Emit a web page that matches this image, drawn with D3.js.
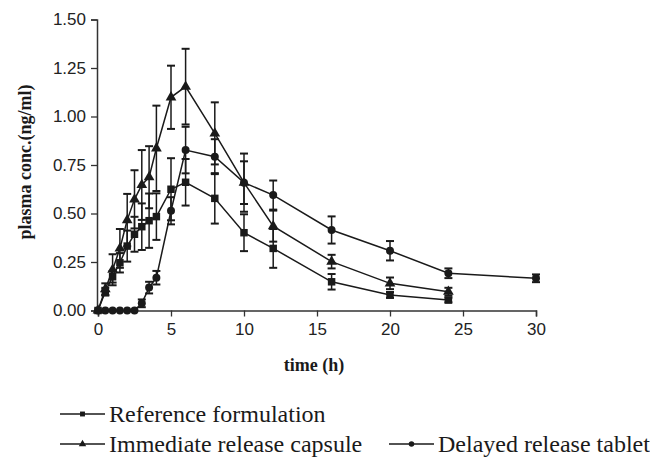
<!DOCTYPE html>
<html>
<head>
<meta charset="utf-8">
<script src="https://cdn.jsdelivr.net/npm/d3@7"></script>
<style>
  body { margin: 0; background: #fff; }
  svg { display: block; }
</style>
</head>
<body>
<svg id="chart" width="650" height="460"></svg>
<script>
// sampling times (h)
const times = [0, 0.5, 1, 1.5, 2, 2.5, 3, 3.5, 4, 5, 6, 8, 10, 12, 16, 20, 24];
const timesDelayed = [0, 0.5, 1, 1.5, 2, 2.5, 3, 3.5, 4, 5, 6, 8, 10, 12, 16, 20, 24, 30];

// mean plasma conc. (ng/ml) and error
const refMean = [0, 0.097, 0.174, 0.246, 0.332, 0.393, 0.432, 0.463, 0.484, 0.625, 0.661, 0.578, 0.401, 0.320, 0.148, 0.080, 0.054];
const refErr = [0, 0.02, 0.03, 0.05, 0.08, 0.09, 0.12, 0.14, 0.12, 0.16, 0.12, 0.13, 0.095, 0.10, 0.04, 0.015, 0.012];

const irMean = [0, 0.11, 0.21, 0.32, 0.466, 0.573, 0.647, 0.687, 0.836, 1.099, 1.154, 0.913, 0.659, 0.435, 0.252, 0.14, 0.097];
const irErr = [0, 0.03, 0.08, 0.10, 0.135, 0.15, 0.18, 0.16, 0.22, 0.163, 0.195, 0.16, 0.15, 0.08, 0.035, 0.03, 0.02];

const drMean = [0, 0, 0, 0, 0, 0, 0.037, 0.118, 0.169, 0.514, 0.827, 0.793, 0.659, 0.595, 0.415, 0.308, 0.192, 0.166];
const drErr = [0, 0, 0, 0, 0, 0, 0.02, 0.03, 0.035, 0.07, 0.12, 0.09, 0.11, 0.075, 0.07, 0.05, 0.025, 0.02];

const xTicks = [0, 5, 10, 15, 20, 25, 30];
const yTicks = [0, 0.25, 0.5, 0.75, 1.0, 1.25, 1.5];

const seriesNames = ['Reference formulation', 'Immediate release capsule', 'Delayed release tablet'];

const ink = '#1a1a1a';

const svg = d3.select('#chart');

const x = d3.scaleLinear().domain([0, 30]).range([98, 536]);
const y = d3.scaleLinear().domain([0, 1.5]).range([310.5, 19.5]);

const series = [
  {name: seriesNames[0], shape: d3.symbolSquare, size: 56, t: times, m: refMean, e: refErr},
  {name: seriesNames[1], shape: d3.symbolTriangle, size: 50, t: times, m: irMean, e: irErr},
  {name: seriesNames[2], shape: d3.symbolCircle, size: 50, t: timesDelayed, m: drMean, e: drErr}
].map(s => Object.assign(s, {
  pts: s.t.map((t, i) => ({t: t, v: s.m[i], e: s.e[i]}))
}));

// axes
const yAxis = svg.append('g')
  .attr('transform', `translate(${x(0) - 1},0)`)
  .call(d3.axisLeft(y).tickValues(yTicks).tickFormat(d3.format('.2f')).tickSize(6).tickPadding(5));

const xAxis = svg.append('g')
  .attr('transform', `translate(0,${y(0)})`)
  .call(d3.axisBottom(x).tickValues(xTicks).tickFormat(d3.format('d')).tickSize(6).tickPadding(6));

[yAxis, xAxis].forEach(ax => {
  ax.select('.domain').attr('stroke', '#333').attr('stroke-width', 1.5);
  ax.selectAll('.tick line').attr('stroke', '#333').attr('stroke-width', 1.3);
  ax.selectAll('.tick text')
    .attr('fill', '#222')
    .style('font-family', '"Liberation Sans", Arial, sans-serif')
    .style('font-size', '17px');
});

svg.append('text')
  .attr('transform', 'translate(31,162) rotate(-90)')
  .attr('text-anchor', 'middle')
  .style('font-family', '"Liberation Serif", "Times New Roman", serif')
  .style('font-weight', 'bold')
  .style('font-size', '18px')
  .attr('fill', ink)
  .text('plasma conc.(ng/ml)');

svg.append('text')
  .attr('x', 314)
  .attr('y', 371)
  .attr('text-anchor', 'middle')
  .style('font-family', '"Liberation Serif", "Times New Roman", serif')
  .style('font-weight', 'bold')
  .style('font-size', '18px')
  .attr('fill', ink)
  .text('time (h)');

// data
const line = d3.line().x(d => x(d.t)).y(d => y(d.v));

const groups = svg.selectAll('.series')
  .data(series)
  .enter()
  .append('g')
  .attr('class', 'series');

groups.append('path')
  .attr('d', s => line(s.pts))
  .attr('fill', 'none')
  .attr('stroke', ink)
  .attr('stroke-width', 1.5);

const bars = groups.selectAll('.err')
  .data(s => s.pts.filter(p => p.e > 0))
  .enter()
  .append('g')
  .attr('class', 'err')
  .attr('stroke', ink)
  .attr('stroke-width', 1.5);

bars.append('line')
  .attr('x1', p => x(p.t)).attr('x2', p => x(p.t))
  .attr('y1', p => y(p.v + p.e)).attr('y2', p => y(p.v - p.e));

bars.selectAll('.cap')
  .data(p => [p.v + p.e, p.v - p.e].map(v => ({t: p.t, v: v})))
  .enter()
  .append('line')
  .attr('class', 'cap')
  .attr('x1', c => x(c.t) - 4).attr('x2', c => x(c.t) + 4)
  .attr('y1', c => y(c.v)).attr('y2', c => y(c.v))
  .attr('stroke-width', 2);

groups.each(function(s) {
  d3.select(this).selectAll('.mark')
    .data(s.pts)
    .enter()
    .append('path')
    .attr('class', 'mark')
    .attr('transform', p => `translate(${x(p.t)},${y(p.v)})`)
    .attr('d', d3.symbol().type(s.shape).size(s.size))
    .attr('fill', ink);
});

// legend
const legendItems = [
  {s: series[0], lx: 60, ly: 414},
  {s: series[1], lx: 60, ly: 444},
  {s: series[2], lx: 389, ly: 444}
];

const legend = svg.selectAll('.legend')
  .data(legendItems)
  .enter()
  .append('g')
  .attr('class', 'legend')
  .attr('transform', d => `translate(${d.lx},${d.ly})`);

legend.append('line')
  .attr('x1', 0).attr('x2', 45)
  .attr('stroke', ink)
  .attr('stroke-width', 1.5);

legend.append('path')
  .attr('transform', 'translate(22.5,0)')
  .attr('d', d => d3.symbol().type(d.s.shape).size(24)())
  .attr('fill', ink);

legend.append('text')
  .attr('x', 49)
  .attr('y', 8)
  .style('font-family', '"Liberation Serif", "Times New Roman", serif')
  .style('font-size', '24px')
  .attr('fill', ink)
  .text(d => d.s.name);
</script>
</body>
</html>
